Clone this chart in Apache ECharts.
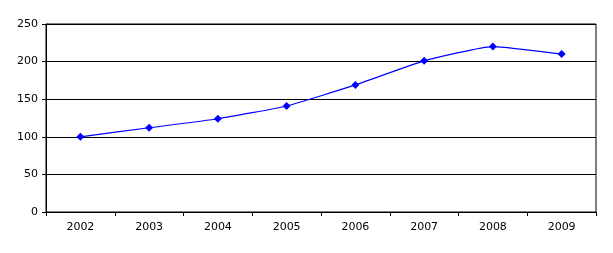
<!DOCTYPE html>
<html><head><meta charset="utf-8">
<script src="https://cdn.jsdelivr.net/npm/echarts@6/dist/echarts.min.js"></script>
<style>html,body{margin:0;padding:0;background:#fff}#c{width:613px;height:253px}</style>
</head><body><div id="c"></div>
<script>
const categories = ['2002','2003','2004','2005','2006','2007','2008','2009'];
const values = [100, 112, 124, 141, 169, 201, 220, 210];
const yTicks = [0, 50, 100, 150, 200, 250];

const chart = echarts.init(document.getElementById('c'), null, {renderer:'canvas'});
chart.setOption({
  animation:false,
  grid:{left:46, right:17, top:24, bottom:41, show:true, borderColor:'#000', borderWidth:1, backgroundColor:'transparent'},
  xAxis:{type:'category', data:categories, boundaryGap:true,
    axisLine:{lineStyle:{color:'#000'}},
    axisTick:{show:true, length:4, lineStyle:{color:'#000'}},
    axisLabel:{color:'#000', fontFamily:'DejaVu Sans', fontSize:11, margin:10}},
  yAxis:{type:'value', min:yTicks[0], max:yTicks[yTicks.length-1], interval:50,
    axisLine:{show:true, lineStyle:{color:'#000'}},
    axisTick:{show:true, length:4, lineStyle:{color:'#000'}},
    splitLine:{lineStyle:{color:'#000'}},
    axisLabel:{color:'#000', fontFamily:'DejaVu Sans', fontSize:11, margin:8}},
  series:[{type:'line', data:values, smooth:0.15,
    symbol:'diamond', symbolSize:8,
    lineStyle:{color:'#0000ff', width:1.2},
    itemStyle:{color:'#0000ff'}}]
});
</script></body></html>
